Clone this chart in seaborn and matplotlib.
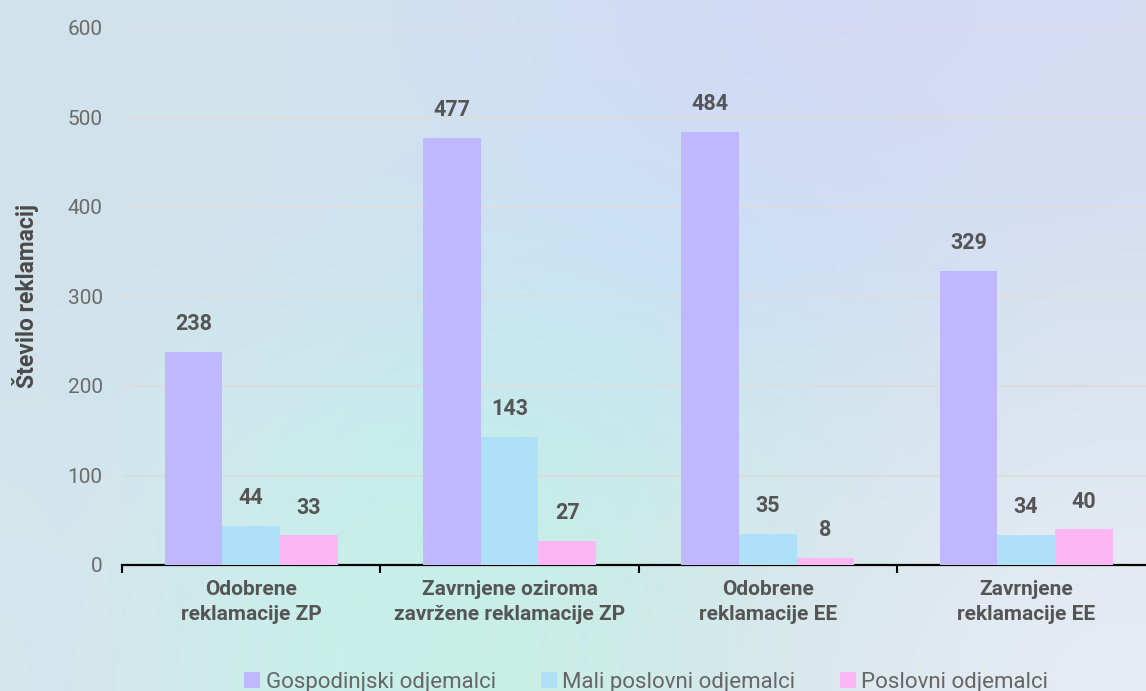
import matplotlib.pyplot as plt
import numpy as np
import pandas as pd
import seaborn as sns

# Data
kategorije = ["Odobrene\nreklamacije ZP",
              "Zavrnjene oziroma\nzavržene reklamacije ZP",
              "Odobrene\nreklamacije EE",
              "Zavrnjene\nreklamacije EE"]
skupine = ["Gospodinjski odjemalci", "Mali poslovni odjemalci", "Poslovni odjemalci"]
gospodinjski = [238, 477, 484, 329]
mali_poslovni = [44, 143, 35, 34]
poslovni = [33, 27, 8, 40]
barve = ["#c0b8fe", "#aee1f8", "#fdb6f4"]

df = pd.DataFrame({
    "kategorija": kategorije * 3,
    "skupina": [s for s in skupine for _ in kategorije],
    "vrednost": gospodinjski + mali_poslovni + poslovni,
})

sns.set_theme(style="white")
plt.rcParams["font.family"] = ["Roboto", "DejaVu Sans"]

fig = plt.figure(figsize=(11.46, 6.91), dpi=100)

# pastel gradient background
bg = fig.add_axes([0, 0, 1, 1], zorder=-10)
grid = np.array([
    [[210, 227, 236], [211, 226, 238], [208, 222, 244], [211, 216, 245], [214, 220, 243]],
    [[210, 226, 235], [208, 226, 240], [200, 228, 246], [204, 222, 246], [214, 224, 240]],
    [[212, 228, 236], [200, 238, 236], [194, 236, 236], [210, 230, 236], [222, 230, 240]],
    [[214, 230, 238], [196, 242, 232], [202, 238, 228], [218, 230, 236], [230, 236, 246]],
]) / 255.0
bg.imshow(grid, aspect="auto", interpolation="bicubic", extent=[0, 1, 0, 1])
bg.set_axis_off()

ax = fig.add_axes([122 / 1146, 1 - 565 / 691, 1024 / 1146, (565 - 28) / 691])
ax.set_facecolor("none")

sns.barplot(data=df, x="kategorija", y="vrednost", hue="skupina", hue_order=skupine,
            palette=barve, saturation=1, width=0.67, linewidth=0, ax=ax, zorder=3)

for c in ax.containers:
    ax.bar_label(c, padding=12, fontsize=15.5, fontweight="bold", color="#555555")

ax.set_yticks(range(0, 601, 100))
ax.yaxis.grid(True, color="#dcdcdc", linewidth=1.3, zorder=0)
ax.set_axisbelow(True)

ax.set_xticks([-0.5, 0.5, 1.5, 2.5, 3.5])
ax.set_xticklabels([])
ax.set_xticks(range(4), minor=True)
ax.set_xticklabels(kategorije, minor=True, fontsize=15, fontweight="bold",
                   color="#555555", linespacing=1.4)
ax.tick_params(axis="x", which="major", direction="out", length=6, width=1.5,
               color="black", bottom=True)
ax.tick_params(axis="x", which="minor", length=0, pad=11)
ax.tick_params(axis="y", length=0, pad=14, labelsize=15, labelcolor="#6b6b6b")

ax.set_ylim(0, 600)
ax.set_xlim(-0.5, -0.5 + 1024 / 258.3)

for s in ["top", "right", "left"]:
    ax.spines[s].set_visible(False)
ax.spines["bottom"].set_color("black")
ax.spines["bottom"].set_linewidth(1.6)

ax.set_xlabel("")
ax.set_ylabel("Število reklamacij", fontsize=16.5, fontweight="bold", color="#4a4a4a")
ax.yaxis.set_label_coords(-0.081, 0.5)

ax.legend(loc="center", bbox_to_anchor=(0.512, -0.219), ncol=3, frameon=False,
          fontsize=16, labelcolor="#666666", handlelength=0.72, handleheight=0.72,
          handletextpad=0.25, columnspacing=2.0)

fig.savefig("out.png", dpi=100)
